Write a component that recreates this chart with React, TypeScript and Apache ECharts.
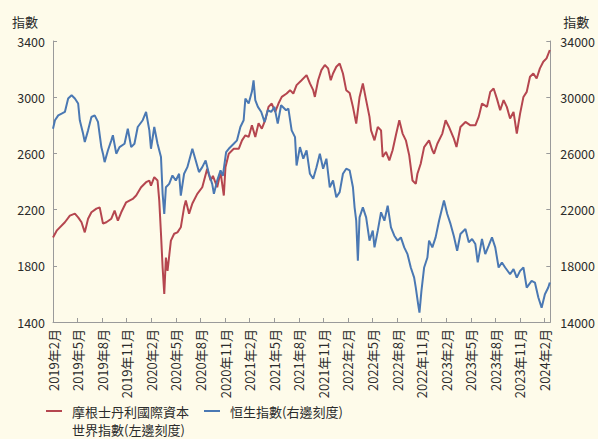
import { useEffect, useRef } from 'react';
import * as echarts from 'echarts';

// x positions are months counted from February 2019 (0 = 2019年2月)
const msciMonths = [
  0, 0.45, 1.45, 2.06, 2.67, 3.07, 3.48, 3.88, 4.28, 4.69, 5.3, 5.7, 6.1, 6.51, 7.12, 7.52, 7.92, 8.33,
  8.93, 9.73, 10.15, 10.75, 11.36, 11.76, 11.96, 12.36, 12.76, 12.97, 13.18, 13.38, 13.58, 13.78, 13.98,
  14.39, 14.79, 15.19, 15.6, 16.0, 16.21, 16.61, 17.01, 17.61, 18.22, 18.82, 19.24, 19.52, 20.04, 20.45,
  20.85, 21.05, 21.45, 22.06, 22.67, 23.07, 23.48, 23.88, 24.28, 24.69, 25.09, 25.49, 25.9, 26.3, 26.7,
  27.12, 27.52, 27.92, 28.52, 28.93, 29.33, 29.73, 30.34, 30.95, 31.36, 31.76, 31.96, 32.36, 32.76, 33.18,
  33.58, 33.9, 34.18, 34.58, 34.99, 35.39, 35.79, 36.21, 36.61, 37.01, 37.42, 37.82, 38.22, 38.63, 38.82,
  39.24, 39.64, 40.04, 40.24, 40.64, 41.05, 41.45, 41.85, 42.27, 42.67, 43.07, 43.48, 43.88, 44.28, 44.48,
  44.88, 45.3, 45.9, 46.3, 46.51, 46.91, 47.52, 47.92, 48.33, 48.93, 49.25, 49.73, 50.34, 50.95, 51.55,
  51.96, 52.36, 52.97, 53.37, 53.78, 54.18, 54.58, 55.0, 55.39, 55.79, 56.21, 56.61, 57.01, 57.42, 57.82,
  58.22, 58.63, 59.03, 59.43, 59.84, 60.24, 60.64,
];
const msciValues = [
  2002, 2050, 2110, 2157, 2171, 2145, 2110, 2038, 2135, 2181, 2207, 2216, 2100, 2110, 2135, 2193, 2121, 2181,
  2252, 2276, 2300, 2359, 2395, 2407, 2371, 2431, 2407, 2264, 2028, 1788, 1600, 1859, 1764,
  1979, 2028, 2038, 2074, 2216, 2264, 2171, 2243, 2312, 2359, 2490, 2407, 2440, 2359, 2467,
  2300, 2502, 2598, 2633, 2633, 2693, 2729, 2717, 2800, 2717, 2814, 2776, 2836, 2931, 2955,
  2895, 2955, 3002, 3026, 3050, 3026, 3086, 3121, 3157, 3098, 3050, 3002, 3121, 3193, 3229,
  3205, 3121, 3169, 3217, 3240, 3169, 3050, 3030, 2931, 2812, 3002, 3098, 2979, 2860, 2764,
  2693, 2788, 2764, 2574, 2610, 2550, 2622, 2729, 2836, 2741, 2693, 2586, 2407, 2383, 2455,
  2526, 2645, 2693, 2622, 2598, 2669, 2741, 2836, 2788, 2705, 2645, 2788, 2824, 2800, 2800,
  2860, 2955, 2931, 3038, 3062, 2990, 2907, 2979, 2931, 2848, 2895, 2741, 2883, 3002, 3038,
  3145, 3169, 3133, 3205, 3252, 3276, 3336,
];

const hsiMonths = [
  0, 0.24, 0.64, 1.05, 1.45, 1.85, 2.27, 2.67, 3.07, 3.27, 3.67, 3.88, 4.28, 4.69, 5.09, 5.49, 5.9, 6.1,
  6.3, 6.7, 7.12, 7.31, 7.72, 8.12, 8.73, 9.13, 9.54, 9.94, 10.34, 10.95, 11.36, 11.76, 11.96, 12.36,
  12.76, 13.18, 13.38, 13.58, 13.78, 14.18, 14.58, 14.99, 15.39, 15.6, 16.0, 16.4, 17.01, 17.42, 17.82,
  18.22, 18.63, 19.03, 19.43, 19.64, 20.04, 20.45, 20.73, 21.13, 21.45, 22.06, 22.46, 22.87, 23.27, 23.48,
  23.88, 24.28, 24.48, 24.69, 25.01, 25.42, 25.82, 26.22, 26.63, 27.03, 27.43, 27.84, 28.45, 28.73, 29.13,
  29.54, 29.73, 30.14, 30.55, 30.95, 31.36, 31.76, 32.16, 32.57, 32.97, 33.37, 33.78, 34.18, 34.58, 34.99,
  35.39, 35.79, 36.21, 36.61, 36.81, 37.01, 37.21, 37.42, 37.82, 38.22, 38.63, 39.03, 39.24, 39.64, 40.04,
  40.45, 40.85, 41.25, 41.66, 42.06, 42.46, 42.87, 43.27, 43.67, 44.08, 44.28, 44.57, 44.73, 44.97, 45.3,
  45.7, 45.9, 46.3, 46.7, 47.12, 47.72, 48.12, 48.52, 48.93, 49.33, 49.73, 50.34, 50.75, 51.15, 51.55,
  51.84, 52.36, 52.76, 53.18, 53.58, 53.98, 54.39, 54.79, 55.19, 55.79, 56.21, 56.61, 57.01, 57.42, 57.82,
  58.42, 58.82, 59.24, 59.64, 60.04, 60.45, 60.64,
];
const hsiValues = [
  27760, 28360, 28710, 28830, 28950, 29910, 30140, 29910, 29550, 28360, 27410, 26810, 27640, 28590, 28710, 28240, 26450, 25980,
  25380, 26210, 26930, 27290, 25980, 26450, 26690, 27760, 26450, 26690, 27880, 28360, 28950, 27640, 26330, 27880,
  26690, 25740, 23120, 21690, 23590, 23830, 24430, 24070, 24550, 23000, 24550, 25020, 26330, 25500, 24670,
  25020, 25500, 24550, 23830, 23120, 24070, 24790, 24400, 26090, 26330, 26690, 26930, 27880, 28360, 29910,
  29550, 30400, 31200, 29790, 29310, 28950, 28240, 29070, 28950, 29310, 28120, 29430, 29070, 29190, 27640,
  27160, 25140, 26450, 25620, 26210, 24550, 24190, 25020, 25980, 24910, 25620, 23590, 24070, 22880, 23240,
  24550, 24910, 24790, 23590, 22160, 21210, 18360, 21450, 22160, 21450, 19790, 20500, 19310, 20500, 21810,
  21210, 22280, 20740, 20140, 19790, 20020, 19310, 18830, 17880, 17160, 16450, 15260, 14670, 16210, 17880,
  18590, 19790, 19310, 20020, 21210, 22640, 21690, 20980, 20100, 19070, 20260, 20620, 19670, 19910, 19550,
  18240, 19910, 18830, 19430, 20020, 19310, 17880, 18240, 17880, 17400, 17760, 17160, 17640, 17880, 16450,
  16930, 16810, 15740, 15020, 15980, 16450, 16810,
];

const xTickLabels = [
  '2019年2月', '2019年5月', '2019年8月', '2019年11月',
  '2020年2月', '2020年5月', '2020年8月', '2020年11月',
  '2021年2月', '2021年5月', '2021年8月', '2021年11月',
  '2022年2月', '2022年5月', '2022年8月', '2022年11月',
  '2023年2月', '2023年5月', '2023年8月', '2023年11月',
  '2024年2月',
];

const msciName = '摩根士丹利國際資本世界指數(左邊刻度)';
const hsiName = '恒生指數(右邊刻度)';

const FONT = '"Noto Sans CJK TC", "Noto Sans", sans-serif';
const AXIS_GREY = '#9a9a9a';
const TEXT = '#2b2b2b';
const RED = '#b5464f';
const BLUE = '#4a78b3';

// Legend keys: a 16×2 bar plus an empty anchor point, so the bar sits
// by the first text line and leaves room before the text.
const KEY_TWO_LINES = 'path://M0,0L16,0L16,2L0,2ZM21,20L21,20Z';
const KEY_ONE_LINE = 'path://M0,0L16,0L16,2L0,2ZM21,2L21,2Z';

const zip = (xs: number[], ys: number[]) => xs.map((x, i) => [x, ys[i]]);
const plain = (v: number) => String(v);

export default function App() {
  const ref = useRef<HTMLDivElement>(null);

  useEffect(() => {
    document.body.style.margin = '0';
    const chart = echarts.init(ref.current!, null, { renderer: 'svg' });

    const yAxisCommon = {
      type: 'value',
      nameLocation: 'end',
      nameGap: 13,
      axisLine: { show: true, lineStyle: { color: AXIS_GREY, width: 1 } },
      axisTick: { show: true, inside: true, length: 4, lineStyle: { color: AXIS_GREY } },
      splitLine: { show: false },
    };

    const legendText = { fontSize: 13, lineHeight: 18, color: TEXT, fontFamily: FONT };

    chart.setOption({
      animation: false,
      backgroundColor: '#fefbea',
      textStyle: { fontFamily: FONT },
      grid: { left: 53, right: 44, top: 41, bottom: 117 },
      xAxis: {
        type: 'value',
        min: 0,
        max: 60.7,
        interval: 3,
        axisLine: { lineStyle: { color: AXIS_GREY, width: 1 } },
        axisTick: { inside: true, length: 4, lineStyle: { color: AXIS_GREY } },
        splitLine: { show: false },
        axisLabel: {
          rotate: 90,
          margin: 7,
          fontSize: 13,
          color: TEXT,
          fontFamily: FONT,
          formatter: (v: number) => {
            const i = Math.round(v / 3);
            if (Math.abs(v - i * 3) > 1e-6) return '';
            return xTickLabels[i] ?? '';
          },
        },
      },
      yAxis: [
        {
          ...yAxisCommon,
          position: 'left',
          min: 1400,
          max: 3400,
          interval: 400,
          name: '指數',
          nameTextStyle: { fontSize: 13, lineHeight: 14, color: TEXT, align: 'right', padding: [0, 15, 0, 0], fontFamily: FONT },
          axisLabel: { margin: 8, fontSize: 12.5, color: TEXT, fontFamily: FONT, formatter: plain },
        },
        {
          ...yAxisCommon,
          position: 'right',
          min: 14000,
          max: 34000,
          interval: 4000,
          name: '指數',
          nameTextStyle: { fontSize: 13, lineHeight: 14, color: TEXT, align: 'left', padding: [0, 0, 0, 13], fontFamily: FONT },
          axisLabel: { margin: 10, fontSize: 12.5, color: TEXT, fontFamily: FONT, formatter: plain },
        },
      ],
      legend: [
        {
          data: [{ name: msciName, icon: KEY_TWO_LINES }],
          left: 46,
          top: 402,
          padding: 0,
          itemWidth: 21,
          itemHeight: 20,
          itemStyle: { borderWidth: 0 },
          selectedMode: false,
          formatter: () => '摩根士丹利國際資本\n世界指數(左邊刻度)',
          textStyle: legendText,
        },
        {
          data: [{ name: hsiName, icon: KEY_ONE_LINE }],
          left: 204,
          top: 402,
          padding: 0,
          itemWidth: 21,
          itemHeight: 2,
          itemStyle: { borderWidth: 0 },
          selectedMode: false,
          textStyle: legendText,
        },
      ],
      series: [
        {
          name: msciName,
          type: 'line',
          yAxisIndex: 0,
          data: zip(msciMonths, msciValues),
          showSymbol: false,
          lineStyle: { color: RED, width: 2 },
          itemStyle: { color: RED },
        },
        {
          name: hsiName,
          type: 'line',
          yAxisIndex: 1,
          data: zip(hsiMonths, hsiValues),
          showSymbol: false,
          lineStyle: { color: BLUE, width: 2 },
          itemStyle: { color: BLUE },
        },
      ],
    });

    return () => chart.dispose();
  }, []);

  return <div ref={ref} style={{ width: 598, height: 439 }} />;
}
